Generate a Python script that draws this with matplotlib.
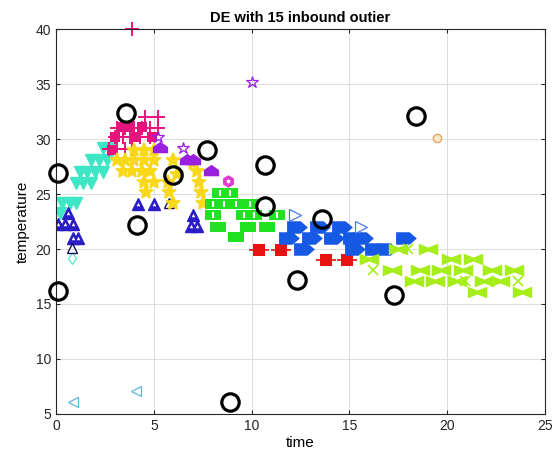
import matplotlib
matplotlib.use("Agg")
import matplotlib.pyplot as plt
import numpy as np

plt.rcParams['font.family'] = ['Liberation Sans', 'DejaVu Sans']

# ---------------- data ----------------
cyan_x = [2.4, 2.8, 1.8, 2.2, 2.6, 1.2, 1.6, 2.0, 2.4, 1.0, 1.4, 1.8, 0.3, 0.7, 1.0, 0.2]
cyan_y = [29.2, 29.2, 28.1, 28.1, 28.1, 27.0, 27.0, 27.0, 27.0, 26.0, 26.0, 26.0, 24.2, 24.2, 24.2, 23.3]
cyan_dia_x = [0.8]
cyan_dia_y = [19.2]
cyan_left_x = [0.85, 4.1]
cyan_left_y = [6.1, 7.1]

blue_tri_x = [0.6, 0.1, 0.45, 0.85, 0.85, 1.1, 4.2, 5.0, 7.0, 6.9, 7.2]
blue_tri_y = [23.3, 22.3, 22.3, 22.3, 21.0, 21.0, 24.1, 24.1, 23.1, 22.1, 22.1]
blue_tri_open_x = [0.8, 5.8]
blue_tri_open_y = [20.1, 24.2]

pink_x = [3.9, 4.55, 5.2, 3.1, 3.5, 4.0, 4.4, 4.8, 5.2, 3.0, 3.4, 3.8, 4.3, 4.8, 2.7, 3.1, 3.5, 3.9]
pink_y = [40.0, 32.0, 32.0, 31.0, 31.0, 31.0, 31.0, 31.0, 31.0, 30.2, 30.2, 30.2, 30.2, 30.2, 29.1, 29.1, 29.1, 29.1]
pink_sq_x = [3.4, 4.4, 3.0, 4.1, 4.9, 2.85, 3.8]
pink_sq_y = [31.1, 31.1, 30.2, 30.2, 30.2, 29.0, 31.1]

yellow_x = [4.0, 4.5, 5.0, 3.1, 3.5, 4.0, 4.5, 5.0, 6.0, 3.4, 3.9, 4.4, 4.8, 7.2,
            4.5, 5.0, 5.7, 7.3, 4.6, 5.8, 7.4, 7.5, 6.0, 6.2, 7.0]
yellow_y = [29.0, 29.0, 29.0, 28.1, 28.1, 28.1, 28.1, 28.1, 28.1, 27.1, 27.1, 27.1, 27.1, 27.1,
            26.1, 26.1, 26.1, 26.1, 25.2, 25.2, 25.2, 24.2, 24.2, 26.8, 27.8]

purple_fill_x = [6.7, 7.0, 7.9, 5.3]
purple_fill_y = [28.1, 28.1, 27.1, 29.2]
purple_star_x = [5.2, 6.5, 10.0]
purple_star_y = [30.2, 29.2, 35.2]

hex_x = [8.8]
hex_y = [26.2]

green_x = [8.4, 8.9, 8.0, 8.6, 9.2, 9.9, 8.0, 9.6, 10.1, 11.3, 8.3, 9.8, 10.8, 9.2]
green_y = [25.1, 25.1, 24.1, 24.1, 24.1, 24.1, 23.1, 23.1, 23.1, 23.1, 22.0, 22.0, 22.0, 21.1]

red_x = [10.4, 11.5, 13.8, 14.9]
red_y = [19.9, 19.9, 19.0, 19.0]

bright_x = [12.3, 13.5, 14.6, 11.9, 13.1, 14.2, 15.2, 15.7, 17.9, 12.7, 15.3, 16.3, 16.9]
bright_y = [22.0, 22.0, 22.0, 21.0, 21.0, 21.0, 21.0, 21.0, 21.0, 20.0, 20.0, 20.0, 20.0]
bright_open_x = [12.2, 15.6]
bright_open_y = [23.1, 22.0]

lime_x = [17.5, 19.0, 16.0, 20.2, 21.3, 17.2, 18.6, 19.7, 20.8, 22.3, 23.4,
          18.3, 19.4, 20.5, 21.9, 22.7, 21.5, 23.8]
lime_y = [20.0, 20.0, 19.1, 19.1, 19.1, 18.1, 18.1, 18.1, 18.1, 18.1, 18.1,
          17.1, 17.1, 17.1, 17.1, 17.1, 16.1, 16.1]
lime_x_only_x = [18.0, 16.2, 20.9, 23.6]
lime_x_only_y = [20.0, 18.1, 17.1, 17.1]

orange_x = [19.5]
orange_y = [30.1]

out_x = [0.09, 0.09, 3.57, 4.13, 5.97, 7.7, 8.9, 10.7, 10.7, 12.3, 13.6, 17.3, 18.4]
out_y = [26.9, 16.2, 32.4, 22.2, 26.7, 29.0, 6.1, 27.6, 23.9, 17.2, 22.7, 15.8, 32.1]

# ---------------- custom marker shapes ----------------
home_right = [(-1, -0.6), (0.3, -0.6), (1, 0), (0.3, 0.6), (-1, 0.6), (-1, -0.6)]
home_up = [(-0.8, -0.5), (0.8, -0.5), (0.8, 0.15), (0, 0.7), (-0.8, 0.15), (-0.8, -0.5)]
bowtie = [(-1, -0.6), (0, -0.2), (1, -0.6), (1, 0.6), (0, 0.2), (-1, 0.6), (-1, -0.6)]
rect = [(-1, -0.6), (1, -0.6), (1, 0.6), (-1, 0.6), (-1, -0.6)]

# ---------------- figure ----------------
fig = plt.figure(figsize=(5.55, 4.62), dpi=100)
ax = fig.add_axes([0.101, 0.104, 0.881, 0.833])

c_cyan = '#3fe6c6'
c_blue = '#2a1cc6'
c_pink = '#e5137b'
c_yel = '#f8d818'
c_pur = '#9a20e0'
c_hex = '#e03ad0'
c_grn = '#22e022'
c_red = '#e81212'
c_bl2 = '#1659e4'
c_lime = '#a6ee1a'

# cyan
ax.plot(cyan_x, cyan_y, 'v', mfc=c_cyan, mec=c_cyan, ms=9, mew=1.0)
ax.plot(cyan_dia_x, cyan_dia_y, 'd', mfc='none', mec=c_cyan, ms=6, mew=0.8)
ax.plot(cyan_left_x, cyan_left_y, '<', mfc='none', mec='#5ab8e0', ms=7, mew=0.9)

# blue triangles
ax.plot(blue_tri_x, blue_tri_y, '^', mfc=c_blue, mec=c_blue, ms=9, mew=1.0)
ax.plot(blue_tri_x, blue_tri_y, '^', mfc='white', mec='white', ms=2.5, mew=0)
ax.plot(blue_tri_open_x, blue_tri_open_y, '^', mfc='none', mec='#1a1060', ms=7, mew=1.0)

# pink
ax.plot(pink_sq_x, pink_sq_y, 's', color=c_pink, ms=7, mew=0)
ax.plot(pink_x, pink_y, '+', color=c_pink, ms=10, mew=1.4, clip_on=False)

# yellow
ax.plot(yellow_x, yellow_y, '*', color=c_yel, ms=10, mew=1.2, mec=c_yel)

# purple
ax.plot(purple_fill_x, purple_fill_y, marker=home_up, ls='none', color=c_pur, ms=11, mew=0)
ax.plot(purple_star_x, purple_star_y, '*', mfc='none', mec=c_pur, ms=9, mew=0.9)

# hexagram
ax.plot(hex_x, hex_y, 'h', color=c_hex, ms=9, mew=0)
ax.plot(hex_x, hex_y, 'h', color='white', ms=3, mew=0)

# green
ax.plot(green_x, green_y, marker=rect, ls='none', color=c_grn, ms=12, mew=0)
gx = [x for x, y in zip(green_x, green_y) if y >= 23]
gy = [y for y in green_y if y >= 23]
ax.plot(gx, gy, '|', color='white', ms=5, mew=1.5)

# red
ax.plot(red_x, red_y, '_', color=c_red, ms=15, mew=1.2)
ax.plot(red_x, red_y, 's', color=c_red, ms=8, mew=0)

# bright blue
ax.plot(bright_x, bright_y, marker=home_right, ls='none', color=c_bl2, ms=15, mew=0)
ax.plot(bright_open_x, bright_open_y, '>', mfc='none', mec='#4a7ae8', ms=9, mew=0.9)

# lime
ax.plot(lime_x, lime_y, marker=bowtie, ls='none', color=c_lime, ms=14, mew=0)
ax.plot(lime_x_only_x, lime_x_only_y, 'x', color=c_lime, ms=7, mew=1.2)

# orange
ax.plot(orange_x, orange_y, 'o', mfc='#fde7c4', mec='#e0a060', ms=6, mew=0.9)

# outliers
ax.plot(out_x, out_y, 'o', mfc='none', mec='black', ms=12.5, mew=2.3, clip_on=False, zorder=5)

ax.set_xlim(0, 25)
ax.set_ylim(5, 40)
ax.set_xticks([0, 5, 10, 15, 20, 25])
ax.set_yticks([5, 10, 15, 20, 25, 30, 35, 40])
ax.grid(True, color='#dcdcdc', lw=0.7)
ax.set_axisbelow(True)
ax.tick_params(direction='in', length=3, labelsize=10, colors='#262626', top=True, right=True,
               labeltop=False, labelright=False)
for s in ax.spines.values():
    s.set_color('#262626')
    s.set_linewidth(0.8)

ax.set_title('DE with 15 inbound outier', fontsize=10.5, fontweight='bold', pad=5)
ax.set_xlabel('time', fontsize=11, labelpad=2)
ax.set_ylabel('temperature', fontsize=11, labelpad=4)

fig.savefig('out.png', dpi=100)
